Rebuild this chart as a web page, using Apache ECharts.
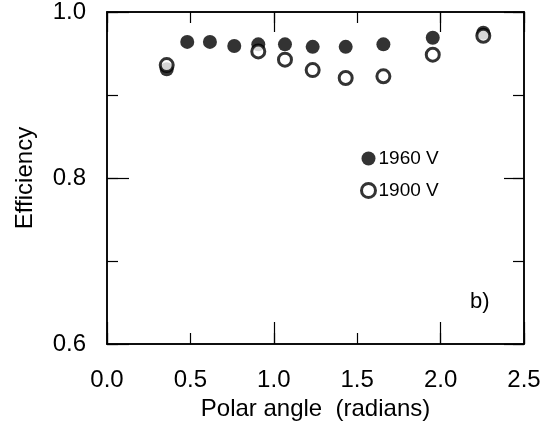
<!DOCTYPE html>
<html>
<head>
<meta charset="utf-8">
<script src="https://cdn.jsdelivr.net/npm/echarts@6/dist/echarts.min.js"></script>
<style>html,body{margin:0;padding:0;background:#fff;}#c{width:556px;height:434px;}</style>
</head>
<body>
<div id="c"></div>
<script>
var angles1960 = [0.358, 0.481, 0.617, 0.763, 0.907, 1.067, 1.233, 1.431, 1.657, 1.953, 2.256];
var eff1960 = [0.931, 0.964, 0.964, 0.959, 0.961, 0.961, 0.958, 0.958, 0.961, 0.969, 0.975];
var angles1900 = [0.358, 0.907, 1.067, 1.233, 1.431, 1.657, 1.953, 2.256];
var eff1900 = [0.936, 0.9525, 0.9426, 0.930, 0.9205, 0.9225, 0.9486, 0.9713];
var seriesNames = ['1960 V', '1900 V'];
var xTickLabels = ['0.0', '0.5', '1.0', '1.5', '2.0', '2.5'];
var yTickLabels = ['0.6', '0.8', '1.0'];

var FONT = '"Liberation Sans", Arial, sans-serif';
var chart = echarts.init(document.getElementById('c'));
function zip(a, b) { return a.map(function (v, i) { return [v, b[i]]; }); }
var lineStyle = { color: '#000', width: 1.5 };
function xAx(pos, interval, len, labels, name) {
  return {
    type: 'value', position: pos, min: 0, max: 2.5, interval: interval,
    axisLine: { show: true, onZero: false, lineStyle: lineStyle },
    axisTick: { show: true, inside: true, length: len, lineStyle: { color: '#000', width: 1.2 } },
    axisLabel: labels ? { show: true, margin: 24, fontSize: 24, fontFamily: FONT, color: '#000',
      formatter: function (v) { return xTickLabels[Math.round(v / 0.5)]; } } : { show: false },
    splitLine: { show: false },
    name: name || '', nameLocation: 'middle', nameGap: 50,
    nameTextStyle: { fontSize: 24, fontFamily: FONT, color: '#000' }
  };
}
function yAx(pos, interval, len, labels, name) {
  return {
    type: 'value', position: pos, min: 0.6, max: 1.0, interval: interval,
    axisLine: { show: true, onZero: false, lineStyle: lineStyle },
    axisTick: { show: true, inside: true, length: len, lineStyle: { color: '#000', width: 1.2 } },
    axisLabel: labels ? { show: true, margin: 21, fontSize: 24, fontFamily: FONT, color: '#000',
      formatter: function (v) { return yTickLabels[Math.round((v - 0.6) / 0.2)]; } } : { show: false },
    splitLine: { show: false },
    name: name || '', nameLocation: 'middle', nameGap: 70,
    nameTextStyle: { fontSize: 24, fontFamily: FONT, color: '#000' }
  };
}
chart.setOption({
  animation: false,
  backgroundColor: '#fff',
  grid: { left: 107, right: 32, top: 10, bottom: 90, containLabel: false },
  xAxis: [
    xAx('bottom', 0.5, 11, true, 'Polar angle  (radians)'),
    xAx('bottom', 1.0, 22, false),
    xAx('top', 0.5, 11, false),
    xAx('top', 1.0, 20, false)
  ],
  yAxis: [
    yAx('left', 0.2, 22, true, 'Efficiency'),
    yAx('left', 0.1, 11, false),
    yAx('right', 0.2, 20, false),
    yAx('right', 0.1, 11, false)
  ],
  legend: {
    orient: 'vertical', left: 355, top: 144, itemGap: 13,
    itemWidth: 14, itemHeight: 14, icon: 'circle',
    textStyle: { fontSize: 19, fontFamily: FONT, color: '#000', padding: [0, 0, 0, -2] },
    data: [
      { name: seriesNames[0], itemStyle: { color: '#000', borderWidth: 0 } },
      { name: seriesNames[1], itemStyle: { color: '#fff', borderColor: '#000', borderWidth: 3 } }
    ]
  },
  title: {
    text: 'b)', left: 470, top: 291, padding: 0,
    textStyle: { fontSize: 22, fontWeight: 'normal', fontFamily: FONT, color: '#000' }
  },
  series: [
    {
      name: seriesNames[0], type: 'scatter', symbol: 'circle', symbolSize: 14,
      itemStyle: { color: '#000' }, emphasis: { disabled: true },
      data: zip(angles1960, eff1960), z: 3
    },
    {
      name: seriesNames[1], type: 'scatter', symbol: 'circle', symbolSize: 13,
      itemStyle: { color: '#fff', borderColor: '#000', borderWidth: 3 }, emphasis: { disabled: true },
      data: zip(angles1900, eff1900), z: 4
    }
  ]
});
</script>
</body>
</html>
